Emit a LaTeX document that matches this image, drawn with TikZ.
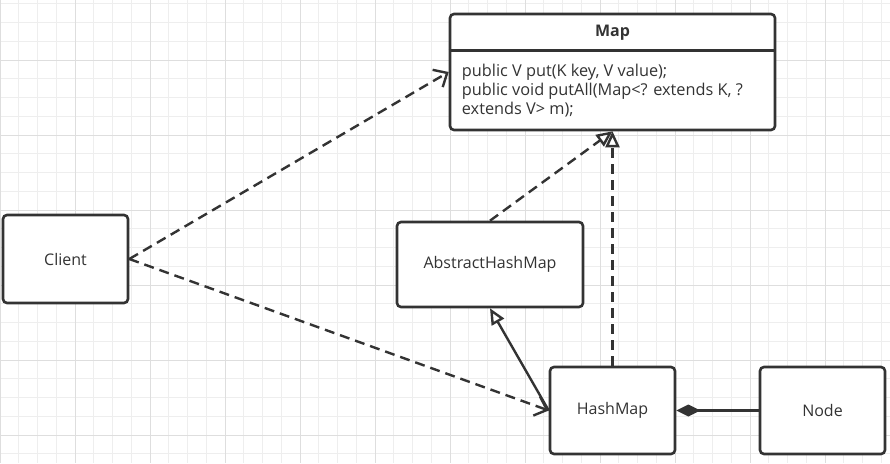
\documentclass[tikz,border=0pt]{standalone}
\usepackage{fontspec}
\setmainfont{Open Sans}
\usepackage{tikz}
\usetikzlibrary{arrows.meta, positioning, calc}
\usepackage{xcolor}
\definecolor{umlink}{HTML}{333333}
\definecolor{gridminor}{HTML}{EEEEEE}
\definecolor{gridmajor}{HTML}{DEDEDE}

\begin{document}
\begin{tikzpicture}[
  x=1pt, y=-1pt,
  classbox/.style={rectangle, rounded corners=4pt, draw=umlink, fill=white,
                   line width=2.6pt, align=center, text=umlink,
                   font=\fontsize{16}{19}\selectfont},
  dep/.style={-{Straight Barb[length=11pt, width=20pt, line width=2.4pt]},
              line width=2.4pt, umlink, dash pattern=on 10pt off 6pt},
  realize/.style={-{Triangle[length=16pt, width=14pt, fill=white, line width=2.4pt]},
                  line width=2.4pt, umlink, dash pattern=on 10pt off 6pt},
  inherit/.style={-{Triangle[length=16pt, width=14pt, fill=white, line width=2.4pt]},
                  line width=2.4pt, umlink},
  compose/.style={-{Diamond[length=24pt, width=12pt]}, line width=2.4pt, umlink}
]
\useasboundingbox (0,0) rectangle (890,463);

% === Grid background ===
\fill[white] (0,0) rectangle (890,463);
\foreach \k in {0,...,47}
  \draw[gridminor, line width=0.8pt] (\k*18.75,0) -- (\k*18.75,463);
\foreach \k in {-3,...,21}
  \draw[gridminor, line width=0.8pt] (0,60+\k*18.75) -- (890,60+\k*18.75);
\foreach \k in {0,...,11}
  \draw[gridmajor, line width=0.8pt] (\k*75,0) -- (\k*75,463);
\foreach \k in {0,...,5}
  \draw[gridmajor, line width=0.8pt] (0,60+\k*75) -- (890,60+\k*75);

% === Map interface ===
\node[classbox, minimum width=325pt, minimum height=116pt] (map) at (612.5,72) {};
\node[font=\fontsize{16}{19}\selectfont\bfseries, text=umlink] (mapname) at (612.5,33) {Map};
\draw[umlink, line width=2.6pt] ($(map.north west)+(0,38)$) -- ($(map.north east)+(0,38)$);
\node[anchor=north west, align=left, inner sep=0pt, text=umlink,
      font=\fontsize{16.3}{19.2}\selectfont] (mapops) at ($(map.north west)+(13,51)$)
  {public V put(K key, V value);\\
   public void putAll(Map<? extends K, ?\\
   extends V> m);};

% === Classes ===
\node[classbox, minimum width=125pt, minimum height=88pt] (client) at (65.5,259) {Client};
\node[classbox, minimum width=186pt, minimum height=85pt] (abstract) at (490,264.5) {AbstractHashMap};
\node[classbox, minimum width=125pt, minimum height=87pt] (hashmap) at (612.5,410.5) {HashMap};
\node[classbox, minimum width=125pt, minimum height=87pt] (entry) at (822.5,410.5) {Node};

% === Relations ===
\draw[dep] (client.east) -- (map.west);
\draw[dep] (client.east) -- (hashmap.west);
\draw[realize] (abstract.north) -- (map.south);
\draw[realize] (hashmap.north) -- (map.south);
\draw[inherit] (hashmap.west) -- (abstract.south);
\draw[compose] (entry.west) -- (hashmap.east);

\end{tikzpicture}
\end{document}
